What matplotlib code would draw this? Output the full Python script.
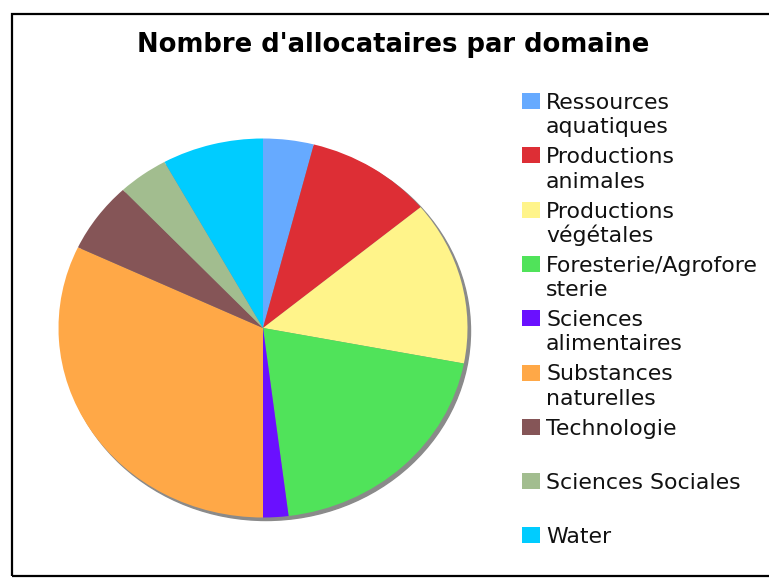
import matplotlib
matplotlib.use('Agg')
import matplotlib.pyplot as plt
from matplotlib.patches import Rectangle, Ellipse
from matplotlib.transforms import Bbox, TransformedBbox

W, H = 769, 583

labels = ['Ressources\naquatiques', 'Productions\nanimales', 'Productions\nvégétales',
          'Foresterie/Agrofore\nsterie', 'Sciences\nalimentaires', 'Substances\nnaturelles',
          'Technologie', 'Sciences Sociales', 'Water']
values = [4, 10, 14, 20, 2, 32, 6, 4, 8]
colors = ['#66aaff', '#dd2e35', '#fff48a', '#50e35a', '#6a10ff',
          '#ffa847', '#855557', '#a2bd8f', '#00ccff']
title = "Nombre d'allocataires par domaine"

fig = plt.figure(figsize=(W / 100, H / 100), dpi=100)

# outer frame (runs past the right edge)
fig.add_artist(Rectangle((12 / W, (H - 576) / H), 1.2, (576 - 14) / H,
                         transform=fig.transFigure, fill=False,
                         edgecolor='black', linewidth=1.6))

# pie: slightly elliptical, centre (263, 328), rx 204, ry 190
cx, cy, rx, ry = 263, 328, 204.5, 189.5
ax = fig.add_axes([(cx - rx) / W, (H - cy - ry) / H, 2 * rx / W, 2 * ry / H])
ax.add_patch(Ellipse((3 / rx, -3 / ry), 2, 2, color='#8a8a8a', zorder=0,
                     clip_on=False))
ax.pie(values, colors=colors, startangle=90, counterclock=False,
       wedgeprops=dict(linewidth=0))
ax.set_aspect('auto')
ax.set_xlim(-1, 1)
ax.set_ylim(-1, 1)
ax.axis('off')

t = fig.text(137 / W, 1 - 52.5 / H, title, fontsize=18.6, fontweight='bold',
             ha='left', va='baseline')
t.set_clip_box(TransformedBbox(Bbox.from_extents(0, 0, 654 / W, 1), fig.transFigure))
t.set_clip_on(True)

# legend, one slot of 54.3 px per entry
for i, (lab, col) in enumerate(zip(labels, colors)):
    base = 109 + i * 54.3
    fig.add_artist(Rectangle((522 / W, 1 - base / H), 17.5 / W, 16 / H,
                             transform=fig.transFigure, color=col, linewidth=0))
    for j, line in enumerate(lab.split('\n')):
        fig.text(546 / W, 1 - (base + j * 24.3) / H, line, fontsize=15.8,
                 ha='left', va='baseline', color='#111111')

fig.savefig('out.png', dpi=100)
